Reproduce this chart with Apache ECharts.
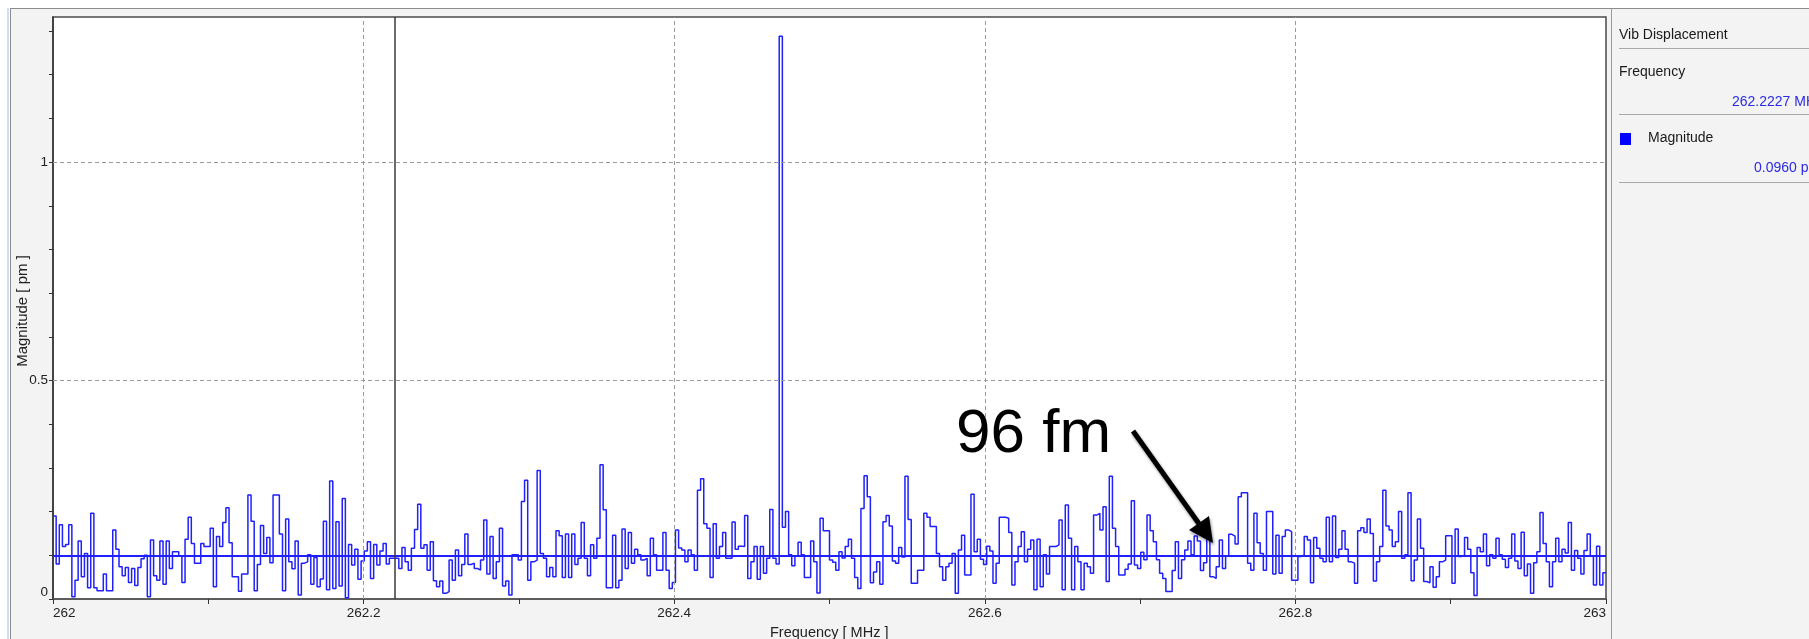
<!DOCTYPE html>
<html><head><meta charset="utf-8">
<script src="https://cdn.jsdelivr.net/npm/echarts@6/dist/echarts.min.js"></script>
<style>
html,body{margin:0;padding:0;background:#fff;width:1809px;height:639px;overflow:hidden}
#edge{position:absolute;left:7px;top:8px;width:2px;height:631px;background:#cddff2}
#frame{position:absolute;left:10px;top:8px;width:1799px;height:631px;background:#f3f3f3;border-top:1px solid #8c8c8c;border-left:1px solid #8c8c8c;box-sizing:border-box}
#chart{position:absolute;left:0;top:0;width:1809px;height:639px}
</style></head><body>
<div id="edge"></div><div id="frame"></div><div id="chart"></div>
<script>
// ---- data (Magnitude [pm] per frequency bin) ----
const freqMin = 262, freqMax = 263;
const seg1 = [
0.19,0.08,0.17,0.12,0.125,0.17,0.005,0.043,0.133,0.051,
0.104,0.026,0.196,0.026,0.019,0.019,0.057,0.019,0.019,0.158,
0.114,0.074,0.053,0.072,0.038,0.070,0.031,0.072,0.092,0.100,
0.005,0.135,0.053,0.043,0.133,0.034,0.133,0.070,0.108,0.108,
0.099,0.038,0.137,0.187,0.127,0.082,0.082,0.127,0.120,0.120,
0.162,0.028,0.143,0.120,0.175,0.209,0.129,0.051,0.051,0.018,
0.057,0.057,0.238,0.178,0.019,0.079,0.168,0.104,0.141,0.083,
0.238,0.238,0.149,0.019,0.183,0.085,0.069,0.133,0.009,0.082,
0.085,0.101,0.034,0.095,0.028,0.046,0.178,0.021,0.270,0.024,
0.177,0.030,0.230,0.003,0.125,0.078,0.114,0.045,0.087,0.110,
0.131,0.047,0.125,0.078,0.110,0.127,0.080,0.093,0.093,0.093,
0.070,0.118,0.085,0.066,0.116,0.159,0.217,0.116,0.124,0.066,
0.131,0.042,0.028,0.041];
const seg2 = [
0.013,0.017,0.089,0.043,0.112,0.053,0.079,0.149,0.079,0.082,
0.070,0.066,0.089,0.181,0.057,0.143,0.047,0.085,0.162,0.030,
0.041,0.009,0.101,0.101,0.089,0.223,0.272,0.043,0.085,0.089,
0.294,0.104,0.093,0.051,0.072,0.051,0.156,0.145,0.049,0.149,
0.049,0.149,0.079,0.093,0.175,0.093,0.053,0.124,0.093,0.139,
0.307,0.204,0.026,0.026,0.146,0.026,0.043,0.160,0.070,0.152,
0.082,0.114,0.101,0.089,0.093,0.053,0.139,0.101,0.066,0.066,
0.152,0.066,0.024,0.038,0.158,0.117,0.112,0.085,0.112,0.101,
0.066,0.249,0.275,0.172,0.162,0.049,0.172,0.093,0.120,0.152,
0.093,0.093,0.176,0.114,0.121,0.120,0.191,0.047,0.085,0.120,
0.045,0.120,0.059,0.093,0.205,0.093,0.080,1.288,0.164,0.200,
0.101,0.076,0.098,0.130,0.101,0.049,0.049,0.133,0.085,0.014,
0.185,0.156,0.156,0.089,0.084,0.066,0.108,0.094,0.120,0.137,
0.093,0.049,0.024,0.207,0.282,0.234,0.037,0.062,0.085,0.034,
0.177,0.191,0.167,0.087,0.082,0.118,0.096];
const seg3 = [
0.281,0.182,0.036,0.036,0.066,0.066,0.196,0.187,0.166,0.166,
0.104,0.074,0.043,0.074,0.082,0.104,0.013,0.112,0.146,0.055,
0.055,0.240,0.108,0.137,0.091,0.079,0.121,0.110,0.036,0.082,
0.187,0.187,0.185,0.152,0.032,0.085,0.120,0.154,0.085,0.114,0.135,
0.021,0.137,0.028,0.101,0.057,0.120,0.120,0.124,0.181,0.021,0.215,
0.139,0.021,0.120,0.085,0.021,0.082,0.074,0.059,0.192,0.196,
0.158,0.211,0.040,0.281,0.162,0.120,0.055,0.055,0.068,0.080,
0.225,0.078,0.070,0.107,0.090,0.192,0.156,0.131,0.090,0.059,
0.047,0.017,0.017,0.065,0.131,0.047,0.090,0.112,0.133,0.101,
0.144,0.133,0.065,0.083,0.143,0.051,0.047,0.074,0.135,0.070,
0.098,0.148,0.144,0.126,0.234,0.243,0.243,0.082,0.066,0.196,
0.129,0.104,0.066,0.200,0.200,0.057,0.146,0.059,0.143,0.158,
0.154,0.043,0.043,0.097,0.101,0.143,0.135,0.037,0.141,0.116,
0.093,0.085,0.187,0.085,0.190,0.095];
const seg4 = [
0.114,0.156,0.114,0.085,0.082,0.036,0.156,0.163,0.152,0.183,
0.150,0.041,0.085,0.120,0.249,0.167,0.158,0.120,0.131,0.200,
0.093,0.101,0.243,0.042,0.089,0.183,0.116,0.040,0.037,0.074,
0.027,0.051,0.085,0.089,0.145,0.145,0.036,0.160,0.097,0.100,
0.141,0.114,0.060,0.008,0.118,0.108,0.149,0.076,0.101,0.093,
0.139,0.101,0.091,0.072,0.093,0.149,0.087,0.070,0.153,0.053,
0.080,0.013,0.083,0.108,0.198,0.127,0.085,0.028,0.085,0.139,
0.085,0.114,0.105,0.175,0.066,0.111,0.093,0.057,0.111,0.149,
0.098,0.032,0.121,0.032,0.060];
const cursorFreq = 262.2227;
const cursorMag = 0.0960;
const xGridLines = [262.2, 262.4, 262.6, 262.8];
const yGridLines = [0.5, 1];
const panelTitle = 'Vib Displacement';
const panelFreqLabel = 'Frequency';
const panelFreqValue = '262.2227 MHz';
const panelMagLabel = 'Magnitude';
const panelMagValue = '0.0960 pm';
const annotationText = '96 fm';

// ---- build ----
const magnitude = seg1.concat(seg2, seg3, seg4);
const binW = (freqMax - freqMin) / magnitude.length;
const stepData = magnitude.map((v, i) => [freqMin + i * binW, v]);
stepData.push([freqMax, magnitude[magnitude.length - 1]]);

const FONT = '"Liberation Sans", Arial, sans-serif';
const chart = echarts.init(document.getElementById('chart'), null, {renderer: 'canvas'});

const gridStyle = {color: '#9a9a9a', type: [4, 3], width: 1};
const option = {
  animation: false,
  backgroundColor: 'transparent',
  grid: {left: 53, top: 17, right: 203, bottom: 40, show: true, backgroundColor: '#ffffff', borderColor: '#4a4a4a', borderWidth: 1.5},
  xAxis: {
    type: 'value', min: freqMin, max: freqMax, interval: 0.1,
    axisLine: {show: true, lineStyle: {color: '#555', width: 1.5}},
    axisTick: {show: true, length: 5, lineStyle: {color: '#333', width: 1}},
    axisLabel: {
      margin: 7, fontSize: 13.5, color: '#222', fontFamily: FONT,
      alignMinLabel: 'left', alignMaxLabel: 'right',
      formatter: v => { const r = Math.round(v * 10); return (Math.abs(v * 10 - r) < 1e-6 && r % 2 === 0) ? String(r / 10) : ''; }
    },
    splitLine: {show: false}
  },
  yAxis: {
    type: 'value', min: 0, max: 1.332, interval: 0.1,
    axisLine: {show: true, lineStyle: {color: '#333', width: 1.5}},
    axisTick: {show: true, length: 4, lineStyle: {color: '#333', width: 1}},
    axisLabel: {
      margin: 5, fontSize: 13.5, color: '#222', fontFamily: FONT, showMaxLabel: false,
      verticalAlignMinLabel: 'bottom',
      formatter: v => { const r = Math.round(v * 10); return (Math.abs(v * 10 - r) < 1e-6 && r % 5 === 0) ? String(r / 10) : ''; }
    },
    splitLine: {show: false}
  },
  series: [
    {
      type: 'line', data: [[freqMin, 0]], showSymbol: false, silent: true, z: 1,
      lineStyle: {opacity: 0},
      markLine: {
        silent: true, symbol: ['none', 'none'], label: {show: false}, animation: false,
        lineStyle: gridStyle,
        data: xGridLines.map(x => ({xAxis: x})).concat(yGridLines.map(y => ({yAxis: y})))
      }
    },
    {
      type: 'line', step: 'end', data: stepData, showSymbol: false, z: 3,
      lineStyle: {color: '#1f1fff', width: 1.5},
      markLine: {
        silent: true, symbol: ['none', 'none'], label: {show: false}, animation: false,
        data: [
          {yAxis: cursorMag, lineStyle: {color: '#1f1fff', width: 1.8, type: 'solid'}},
          {xAxis: cursorFreq, lineStyle: {color: '#3a3a3a', width: 1.5, type: 'solid'}}
        ]
      }
    }
  ],
  graphic: [
    {type: 'text', x: 23, y: 311, rotation: Math.PI / 2,
     style: {text: 'Magnitude [ pm ]', fontSize: 15, fontFamily: FONT, fill: '#222', align: 'center', verticalAlign: 'middle'}},
    {type: 'text', x: 770, y: 625,
     style: {text: 'Frequency [ MHz ]', fontSize: 14.5, fontFamily: FONT, fill: '#222', align: 'left', verticalAlign: 'top'}},
    // annotation
    {type: 'text', x: 956, y: 435, z: 10,
     style: {text: annotationText, fontSize: 62, fontFamily: FONT, fill: '#000', align: 'left', verticalAlign: 'middle'}},
    {type: 'line', z: 10, shape: {x1: 1133, y1: 431, x2: 1202, y2: 528},
     style: {stroke: '#000', lineWidth: 5, shadowBlur: 3, shadowColor: 'rgba(0,0,0,0.45)', shadowOffsetX: 1, shadowOffsetY: 2}},
    {type: 'polygon', z: 10, shape: {points: [[1213, 543], [1209, 516], [1189, 530]]},
     style: {fill: '#000', shadowBlur: 3, shadowColor: 'rgba(0,0,0,0.45)', shadowOffsetX: 1, shadowOffsetY: 2}},
    // side panel
    {type: 'line', shape: {x1: 1611.5, y1: 9, x2: 1611.5, y2: 639}, style: {stroke: '#9a9a9a', lineWidth: 1}},
    {type: 'text', x: 1619, y: 35, style: {text: panelTitle, fontSize: 14, fontFamily: FONT, fill: '#1a1a1a', verticalAlign: 'middle'}},
    {type: 'line', shape: {x1: 1619, y1: 48.5, x2: 1809, y2: 48.5}, style: {stroke: '#a8a8a8', lineWidth: 1}},
    {type: 'text', x: 1619, y: 72, style: {text: panelFreqLabel, fontSize: 14, fontFamily: FONT, fill: '#1a1a1a', verticalAlign: 'middle'}},
    {type: 'text', x: 1732, y: 102, style: {text: panelFreqValue, fontSize: 14, fontFamily: FONT, fill: '#2a2ae8', verticalAlign: 'middle'}},
    {type: 'line', shape: {x1: 1619, y1: 114.5, x2: 1809, y2: 114.5}, style: {stroke: '#a8a8a8', lineWidth: 1}},
    {type: 'rect', shape: {x: 1620, y: 133, width: 11, height: 12}, style: {fill: '#0000ff'}},
    {type: 'text', x: 1648, y: 138, style: {text: panelMagLabel, fontSize: 14, fontFamily: FONT, fill: '#1a1a1a', verticalAlign: 'middle'}},
    {type: 'text', x: 1754, y: 168, style: {text: panelMagValue, fontSize: 14, fontFamily: FONT, fill: '#2a2ae8', verticalAlign: 'middle'}},
    {type: 'line', shape: {x1: 1619, y1: 182.5, x2: 1809, y2: 182.5}, style: {stroke: '#a8a8a8', lineWidth: 1}}
  ]
};
chart.setOption(option);
</script>
</body></html>
